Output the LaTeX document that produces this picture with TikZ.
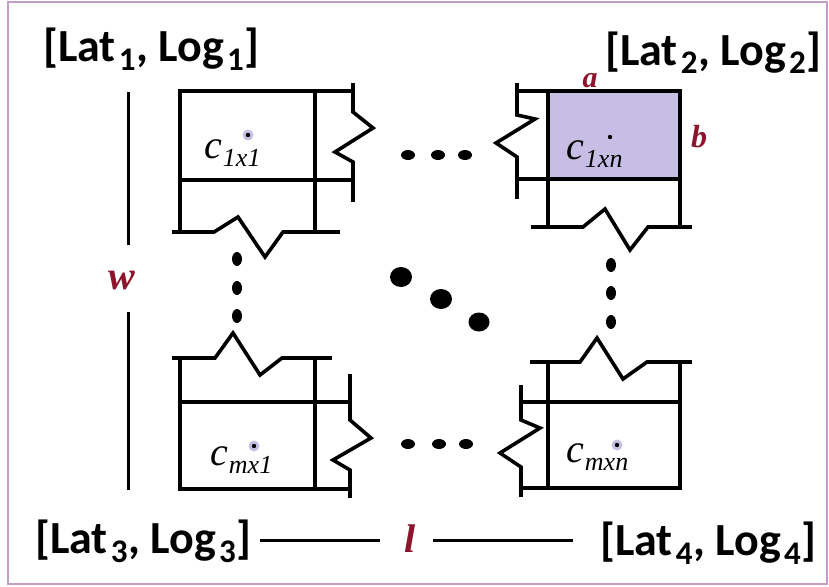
\documentclass[tikz,border=0pt]{standalone}
\usepackage{fontspec}
\setmainfont{Carlito}
\newfontfamily\cambria{Liberation Serif}
\definecolor{framecol}{RGB}{196,156,200}
\definecolor{lav}{RGB}{198,190,228}
\definecolor{halo}{RGB}{200,192,228}
\definecolor{dred}{RGB}{140,20,45}
\newcommand\latlog[1]{[Lat\kern3pt\raisebox{-9pt}{\fontsize{33}{33}\selectfont #1}\kern1pt, Log\kern3pt\raisebox{-9pt}{\fontsize{33}{33}\selectfont #1}\kern1pt]}
\newcommand\cell[1]{\cambria\itshape c\kern1pt\raisebox{-8pt}{\fontsize{26}{26}\selectfont #1}}
\tikzset{
  wall/.style={line width=3.6pt, line cap=rect, line join=miter},
  latlab/.style={font=\bfseries\fontsize{46}{52}\selectfont, anchor=base west, inner sep=0pt},
  clab/.style={font=\fontsize{40}{46}\selectfont, anchor=base west, inner sep=0pt},
  dimlab/.style={font=\cambria\bfseries\itshape, text=dred, inner sep=0pt},
  dimline/.style={line width=3pt},
  bigdot/.style={fill=black},
}
\begin{document}
\begin{tikzpicture}[x=1pt,y=-1pt]
\useasboundingbox (0,0) rectangle (829,586);
\fill[white] (0,0) rectangle (829,586);
\draw[framecol, line width=2pt] (8,2) rectangle (827,584);

% ---------- top-left cell
\draw[wall] (180,91) rectangle (315,180);
\draw[wall] (180,180) -- (180,232) (315,180) -- (315,232);
\draw[wall] (174,232) -- (214,232) -- (238,217) -- (265,257) -- (283,232) -- (338,232);
\draw[wall] (315,91) -- (353,91) (315,180) -- (353,180);
\draw[wall] (353,85) -- (353,112) -- (373,128) -- (335,152) -- (353,162) -- (353,200);

% ---------- top-right cell
\draw[wall, fill=lav] (548,91) rectangle (680,179);
\draw[wall] (548,179) -- (548,227) (680,179) -- (680,227);
\draw[wall] (533,227) -- (583,227) -- (605,209) -- (630,250) -- (648,227) -- (690,227);
\draw[wall] (517,91) -- (548,91) (517,179) -- (548,179);
\draw[wall] (517,85) -- (517,115) -- (535,119) -- (496,143) -- (517,157) -- (517,197);

% ---------- bottom-left cell
\draw[wall] (174,358) -- (215,358) -- (233,333) -- (260,375) -- (282,358) -- (330,358);
\draw[wall] (180,358) -- (180,402) (315,358) -- (315,402);
\draw[wall] (180,402) rectangle (315,489);
\draw[wall] (315,402) -- (350,402) (315,489) -- (350,489);
\draw[wall] (350,376) -- (350,420) -- (371,438) -- (333,460) -- (350,470) -- (350,496);

% ---------- bottom-right cell
\draw[wall] (532,362) -- (580,362) -- (597,338) -- (623,379) -- (647,362) -- (690,362);
\draw[wall] (548,362) -- (548,402) (680,362) -- (680,402);
\draw[wall] (548,402) rectangle (680,488);
\draw[wall] (521,402) -- (548,402) (521,488) -- (548,488);
\draw[wall] (521,387) -- (521,420) -- (540,428) -- (500,453) -- (521,467) -- (521,495);

% ---------- centre points
\fill[halo] (248,135) circle (5.5);
\fill (248,135) circle (2.2);
\fill (610,137) circle (2.2);
\fill[halo] (254,446) circle (5.5);
\fill (254,446) circle (2.2);
\fill[halo] (617,445) circle (5.5);
\fill (617,445) circle (2.2);

% ---------- cell labels
\node[clab] (c11) at (204,158) {\cell{1x1}};
\node[clab] (c1n) at (566,159) {\cell{1xn}};
\node[clab] (cm1) at (210,465) {\cell{mx1}};
\node[clab] (cmn) at (566,462) {\cell{mxn}};

% ---------- ellipsis dots
\foreach \x in {408,438,465} \fill (\x,155) ellipse (7 and 5);
\foreach \x in {408,439,466} \fill (\x,444) ellipse (7 and 5);
\foreach \y in {259,288,316} \fill (237,\y) ellipse (5 and 7);
\foreach \y in {265,293,322} \fill (611,\y) ellipse (5 and 7);
\fill[bigdot] (401,277) ellipse (11 and 10);
\fill[bigdot] (441,299) ellipse (11 and 10);
\fill[bigdot] (479,322) ellipse (10.5 and 9.5);

% ---------- corner labels
\node[latlab] (l1) at (43,62) {\latlog{1}};
\node[latlab] (l2) at (605,65) {\latlog{2}};
\node[latlab] (l3) at (35,553) {\latlog{3}};
\node[latlab] (l4) at (600,555) {\latlog{4}};

% ---------- side labels
\node[dimlab, font=\cambria\bfseries\itshape\fontsize{30}{30}\selectfont] (a) at (590,81) {a};
\node[dimlab, font=\cambria\bfseries\itshape\fontsize{32}{32}\selectfont] (b) at (699,137) {b};
\node[dimlab, font=\cambria\bfseries\itshape\fontsize{40}{40}\selectfont] (w) at (122,281) {w};
\node[dimlab, font=\cambria\bfseries\itshape\fontsize{40}{40}\selectfont] (l) at (410,539) {l};

\coordinate (wtop) at (128,92);
\coordinate (wup) at (128,245);
\coordinate (wlow) at (128,312);
\coordinate (wbot) at (128,490);
\coordinate (lleft) at (260,540);
\coordinate (lmid1) at (380,540);
\coordinate (lmid2) at (433,540);
\coordinate (lright) at (573,540);
\draw[dimline] (wtop) -- (wup);
\draw[dimline] (wlow) -- (wbot);
\draw[dimline] (lleft) -- (lmid1);
\draw[dimline] (lmid2) -- (lright);
\end{tikzpicture}
\end{document}
